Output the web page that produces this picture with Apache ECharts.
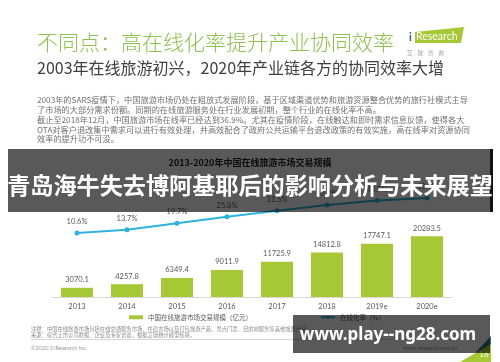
<!DOCTYPE html>
<html><head><meta charset="utf-8">
<script src="https://cdn.jsdelivr.net/npm/echarts@6/dist/echarts.min.js"></script>
<style>html,body{margin:0;padding:0;background:#fff}#c{width:500px;height:362px}</style>
</head><body><div id="c"></div>
<script>
var categories = ['2013','2014','2015','2016','2017','2018','2019e','2020e'];
var marketSize = [3070.1, 4257.8, 6349.4, 9011.9, 11725.9, 14812.8, 17747.1, 20283.5];
var onlineRate = [10.6, 13.7, 19.7, 25.8, 31.5, 36.9, 40.9, 43.4];
var legendNames = ['中国在线旅游市场交易规模（亿元）', '在线化率（%）'];
var pageTitle = '不同点：高在线化率提升产业协同效率';
var pageSubtitle = '2003年在线旅游初兴，2020年产业链各方的协同效率大增';
var paragraph = [
 '2003年的SARS疫情下，中国旅游市场仍处在粗放式发展阶段，基于区域渠道优势和旅游资源整合优势的旅行社模式主导',
 '了市场的大部分需求份额。同期的在线旅游服务处在行业发展初期，整个行业的在线化率不高。',
 '截止至2018年12月，中国旅游市场在线率已经达到36.9%。尤其在疫情阶段，在线触达和即时需求信息反馈，使得各大',
 'OTA对客户退改集中需求可以进行有效处理，并高效配合了政府公共运输平台退改政策的有效实施，高在线率对资源协同',
 '效率的提升功不可没。'
];
var chartTitle = '2013-2020年中国在线旅游市场交易规模';
var overlayTitle = '青岛海牛失去博阿基耶后的影响分析与未来展望';
var watermark = 'www.play--ng28.com';
var noteLines = ['注释：中国在线旅游市场包括在线交通服务市场、住宿市场以及打包旅游产品、景点门票、目的地服务等其他旅游产品。',
 '来源：综合上市公司财报、企业及专家访谈，根据艾瑞统计模型核算。'];

var CJK = '"Noto Sans CJK SC", sans-serif';
var LAT = 'Lato, "Noto Sans CJK SC", sans-serif';

function fitSize(text, weight, family, base, target) {
  var ctx = document.createElement('canvas').getContext('2d');
  ctx.font = weight + ' ' + base + 'px ' + family;
  var w = ctx.measureText(text).width;
  return w > 0 ? base * target / w : base;
}
var ovSize = fitSize(overlayTitle, 'bold', CJK, 24, 486);

var chart = echarts.init(document.getElementById('c'), null, {renderer:'canvas'});

function T(text, x, y, fill, font, align, z) {
  return {type:'text', z: z || 10, style:{text:text, x:x, y:y, fill:fill, font:font,
    textAlign: align || 'left', textVerticalAlign:'middle'}};
}
var graphics = [];
graphics.push(T(pageTitle, 37, 42, '#8cc34b', '300 21px '+CJK));
graphics.push(T(pageSubtitle, 37, 68, '#404040', '16px '+CJK));
paragraph.forEach(function(t,i){
  graphics.push(T(t, 37, 100+i*9.8, '#707070', '8.2px '+CJK));
});
// logo
graphics.push({type:'polygon', shape:{points:[[415,32],[464,27],[461,43],[415,43]]}, style:{fill:'#a6c834'}});
graphics.push(T('i', 409, 37, '#2f5d9c', 'bold 11px '+LAT));
graphics.push(T('Research', 416, 37, '#fff', '10.5px '+LAT));
graphics.push(T('艾    瑞    咨    询', 407, 53, '#999', '5.5px '+CJK));
// chart title
graphics.push(T(chartTitle, 250, 163, '#222', 'bold 9px '+CJK, 'center'));
// footer
graphics.push(T(noteLines[0], 31, 329, '#8a8a8a', '5.3px '+CJK));
graphics.push(T(noteLines[1], 31, 334.5, '#8a8a8a', '5.3px '+CJK));
graphics.push({type:'line', shape:{x1:31,y1:339.5,x2:460,y2:339.5}, style:{stroke:'#bbb', lineWidth:0.6}});
graphics.push(T('©2020.3 iResearch Inc.', 31, 348, '#9a9a9a', '5.5px '+LAT));
graphics.push(T('www.iresearch.com.cn', 403, 348, '#9a9a9a', '5.5px '+LAT));
graphics.push({type:'polygon', shape:{points:[[476,352],[491,336],[491,352]]}, style:{fill:'#2a6f88'}});
graphics.push({type:'polygon', shape:{points:[[460,362],[491,362],[491,344]]}, style:{fill:'#a6c834'}});
graphics.push(T('16', 484, 354, '#fff', '8px '+LAT, 'center'));
// overlays
graphics.push({type:'rect', z:100, shape:{x:8,y:149,width:482,height:63}, style:{fill:'rgba(0,0,0,0.65)'}});
graphics.push({type:'rect', z:100, shape:{x:490,y:149,width:3,height:63}, style:{fill:'#111'}});
graphics.push(T(overlayTitle, 250, 185, '#fff', 'bold ' + ovSize.toFixed(2) + 'px '+CJK, 'center', 101));
graphics.push({type:'rect', z:100, shape:{x:293,y:315,width:197,height:38}, style:{fill:'rgba(0,0,0,0.65)'}});
graphics.push(T(watermark, 388, 335, '#fff', 'bold 17px "Noto Sans", sans-serif', 'center', 101));

chart.setOption({
  backgroundColor:'#fff',
  animation:false,
  graphic: graphics,
  grid:[{left:52, right:48, top:150, bottom:65},{left:52, right:48, top:137.5, bottom:117.7}],
  legend:{left:124, top:309, itemGap:68, itemWidth:14, itemHeight:4, textStyle:{color:'#595959', fontSize:6.5, fontFamily:CJK},
    data:[{name:legendNames[0], icon:'rect'},{name:legendNames[1]}]},
  xAxis:[{type:'category', gridIndex:0, data:categories, axisTick:{show:false},
      axisLine:{lineStyle:{color:'#d9d9d9', width:1}},
      axisLabel:{color:'#595959', fontSize:7.5, fontFamily:'Lato, sans-serif', margin:6}},
    {type:'category', gridIndex:1, data:categories, show:false}],
  yAxis:[{type:'value', gridIndex:0, min:0, max:49000, show:false, splitLine:{show:false}},
    {type:'value', gridIndex:1, min:0, max:100, show:false, splitLine:{show:false}}],
  series:[
    {name:legendNames[0], type:'bar', xAxisIndex:0, yAxisIndex:0, data:marketSize, barWidth:'64%',
      itemStyle:{color:'#a6c834'}, label:{show:true, position:'top', distance:4, color:'#595959', fontSize:7.5, fontFamily:'Lato, sans-serif'}},
    {name:legendNames[1], type:'line', xAxisIndex:1, yAxisIndex:1, data:onlineRate, symbol:'circle', symbolSize:5,
      lineStyle:{color:'#2db3dc', width:2}, itemStyle:{color:'#2db3dc'},
      label:{show:true, position:'top', distance:5, color:'#595959', fontSize:7.5, fontFamily:'Lato, sans-serif', formatter:'{c}%'}}
  ]
});
</script></body></html>
